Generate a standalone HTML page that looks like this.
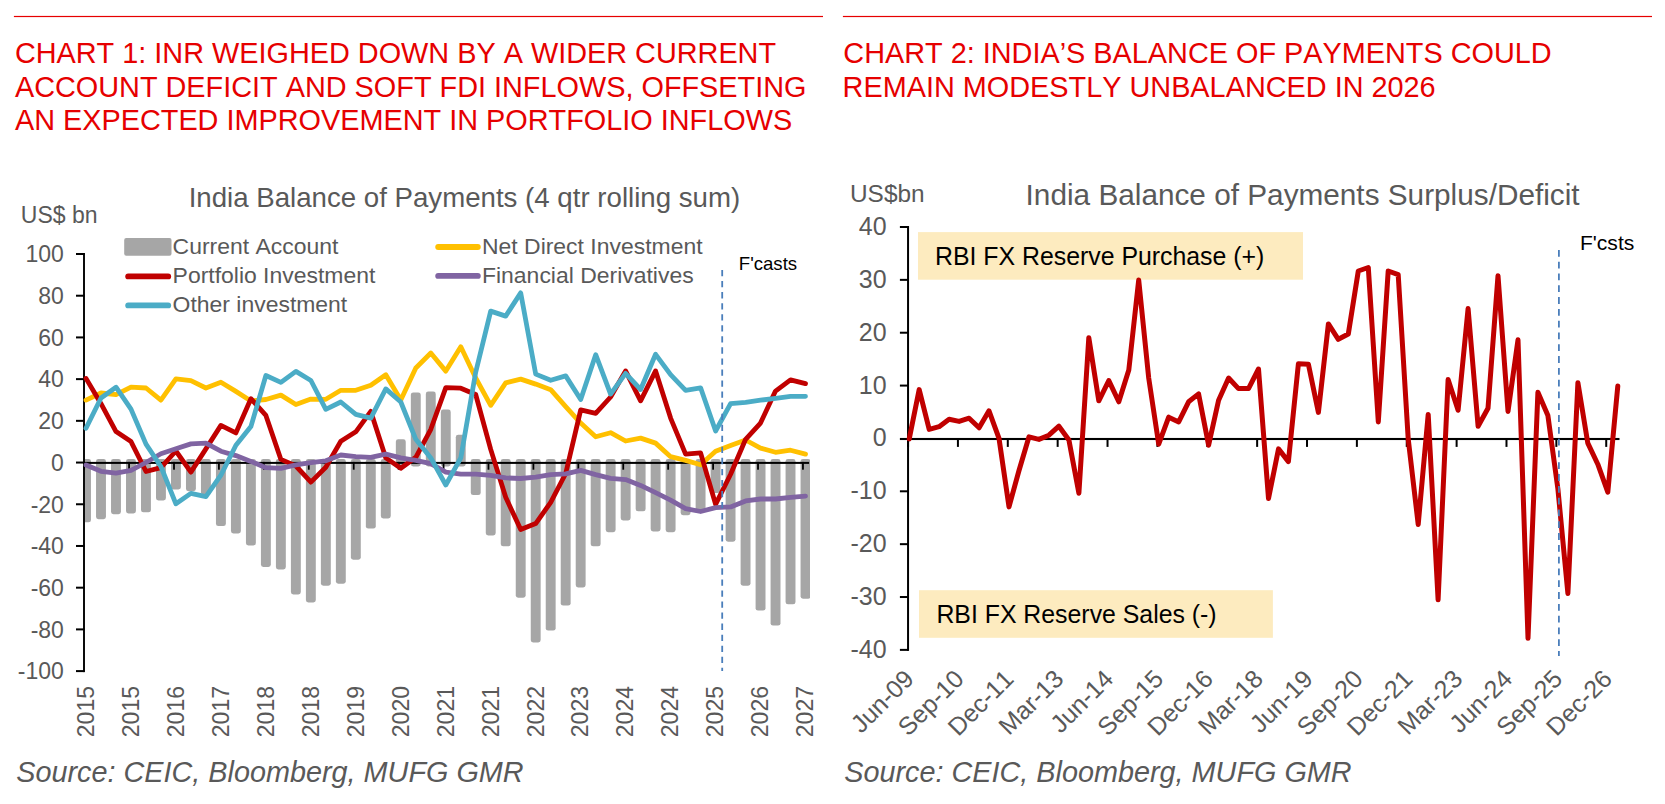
<!DOCTYPE html>
<html lang="en"><head><meta charset="utf-8"><title>India Balance of Payments charts</title>
<style>html,body{margin:0;padding:0;background:#fff}body{width:1665px;height:804px;overflow:hidden}svg{display:block}text{font-family:"Liberation Sans", Arial, sans-serif;font-kerning:none}</style></head><body>
<svg width="1665" height="804" viewBox="0 0 1665 804">
<rect width="1665" height="804" fill="#fff"/>
<rect x="13.9" y="15.9" width="809.1" height="1.2" fill="#E60000"/>
<rect x="842.9" y="15.9" width="809.1" height="1.2" fill="#E60000"/>
<text x="14.9" y="62.8" font-size="28.85" fill="#E60000" text-anchor="start">CHART 1: INR WEIGHED DOWN BY A WIDER CURRENT</text>
<text x="14.9" y="96.5" font-size="28.85" fill="#E60000" text-anchor="start">ACCOUNT DEFICIT AND SOFT FDI INFLOWS, OFFSETING</text>
<text x="14.9" y="130.3" font-size="28.85" fill="#E60000" text-anchor="start">AN EXPECTED IMPROVEMENT IN PORTFOLIO INFLOWS</text>
<text x="843.3" y="62.8" font-size="28.85" fill="#E60000" text-anchor="start">CHART 2: INDIA’S BALANCE OF PAYMENTS COULD</text>
<text x="842.6" y="96.5" font-size="28.85" fill="#E60000" text-anchor="start">REMAIN MODESTLY UNBALANCED IN 2026</text>
<g id="chart1">
<clipPath id="c1clip"><rect x="85" y="250" width="725" height="425"/></clipPath>
<g clip-path="url(#c1clip)" fill="#A6A6A6">
<rect x="81.05" y="458.90" width="9.90" height="63.45" rx="2.4"/>
<rect x="96.04" y="458.90" width="9.90" height="60.32" rx="2.4"/>
<rect x="111.03" y="458.90" width="9.90" height="55.31" rx="2.4"/>
<rect x="126.02" y="458.90" width="9.90" height="54.48" rx="2.4"/>
<rect x="141.01" y="458.90" width="9.90" height="53.43" rx="2.4"/>
<rect x="156.00" y="458.90" width="9.90" height="41.55" rx="2.4"/>
<rect x="170.99" y="458.90" width="9.90" height="30.49" rx="2.4"/>
<rect x="185.98" y="458.90" width="9.90" height="32.37" rx="2.4"/>
<rect x="200.97" y="458.90" width="9.90" height="35.92" rx="2.4"/>
<rect x="215.96" y="458.90" width="9.90" height="67.20" rx="2.4"/>
<rect x="230.95" y="458.90" width="9.90" height="74.50" rx="2.4"/>
<rect x="245.94" y="458.90" width="9.90" height="86.59" rx="2.4"/>
<rect x="260.93" y="458.90" width="9.90" height="108.08" rx="2.4"/>
<rect x="275.92" y="458.90" width="9.90" height="110.58" rx="2.4"/>
<rect x="290.91" y="458.90" width="9.90" height="135.60" rx="2.4"/>
<rect x="305.90" y="458.90" width="9.90" height="143.53" rx="2.4"/>
<rect x="320.89" y="458.90" width="9.90" height="126.84" rx="2.4"/>
<rect x="335.88" y="458.90" width="9.90" height="124.76" rx="2.4"/>
<rect x="350.87" y="458.90" width="9.90" height="100.78" rx="2.4"/>
<rect x="365.86" y="458.90" width="9.90" height="69.70" rx="2.4"/>
<rect x="380.85" y="458.90" width="9.90" height="59.48" rx="2.4"/>
<rect x="395.84" y="439.34" width="9.90" height="27.16" rx="2.4"/>
<rect x="410.83" y="392.42" width="9.90" height="74.08" rx="2.4"/>
<rect x="425.82" y="391.58" width="9.90" height="74.92" rx="2.4"/>
<rect x="440.81" y="409.52" width="9.90" height="56.98" rx="2.4"/>
<rect x="455.80" y="434.75" width="9.90" height="31.75" rx="2.4"/>
<rect x="470.79" y="458.90" width="9.90" height="36.13" rx="2.4"/>
<rect x="485.78" y="458.90" width="9.90" height="76.58" rx="2.4"/>
<rect x="500.77" y="458.90" width="9.90" height="87.43" rx="2.4"/>
<rect x="515.76" y="458.90" width="9.90" height="138.73" rx="2.4"/>
<rect x="530.75" y="458.90" width="9.90" height="183.57" rx="2.4"/>
<rect x="545.74" y="458.90" width="9.90" height="171.68" rx="2.4"/>
<rect x="560.73" y="458.90" width="9.90" height="146.66" rx="2.4"/>
<rect x="575.72" y="458.90" width="9.90" height="128.51" rx="2.4"/>
<rect x="590.71" y="458.90" width="9.90" height="87.43" rx="2.4"/>
<rect x="605.70" y="458.90" width="9.90" height="73.25" rx="2.4"/>
<rect x="620.69" y="458.90" width="9.90" height="61.57" rx="2.4"/>
<rect x="635.68" y="458.90" width="9.90" height="52.39" rx="2.4"/>
<rect x="650.67" y="458.90" width="9.90" height="72.62" rx="2.4"/>
<rect x="665.66" y="458.90" width="9.90" height="73.25" rx="2.4"/>
<rect x="680.65" y="458.90" width="9.90" height="56.35" rx="2.4"/>
<rect x="695.64" y="458.90" width="9.90" height="52.81" rx="2.4"/>
<rect x="710.63" y="458.90" width="9.90" height="34.04" rx="2.4"/>
<rect x="725.62" y="458.90" width="9.90" height="82.84" rx="2.4"/>
<rect x="740.61" y="458.90" width="9.90" height="126.84" rx="2.4"/>
<rect x="755.60" y="458.90" width="9.90" height="151.66" rx="2.4"/>
<rect x="770.59" y="458.90" width="9.90" height="166.68" rx="2.4"/>
<rect x="785.58" y="458.90" width="9.90" height="145.41" rx="2.4"/>
<rect x="800.57" y="458.90" width="9.90" height="139.77" rx="2.4"/>
</g>
<rect x="83.05" y="253" width="1.9" height="419.1" fill="#000"/>
<rect x="76" y="253.00" width="8.5" height="2" fill="#000"/>
<text x="63.9" y="262.3" font-size="23" fill="#595959" text-anchor="end">100</text>
<rect x="76" y="294.71" width="8.5" height="2" fill="#000"/>
<text x="63.9" y="304.0" font-size="23" fill="#595959" text-anchor="end">80</text>
<rect x="76" y="336.42" width="8.5" height="2" fill="#000"/>
<text x="63.9" y="345.7" font-size="23" fill="#595959" text-anchor="end">60</text>
<rect x="76" y="378.13" width="8.5" height="2" fill="#000"/>
<text x="63.9" y="387.4" font-size="23" fill="#595959" text-anchor="end">40</text>
<rect x="76" y="419.84" width="8.5" height="2" fill="#000"/>
<text x="63.9" y="429.1" font-size="23" fill="#595959" text-anchor="end">20</text>
<rect x="76" y="461.55" width="8.5" height="2" fill="#000"/>
<text x="63.9" y="470.9" font-size="23" fill="#595959" text-anchor="end">0</text>
<rect x="76" y="503.26" width="8.5" height="2" fill="#000"/>
<text x="63.9" y="512.6" font-size="23" fill="#595959" text-anchor="end">-20</text>
<rect x="76" y="544.97" width="8.5" height="2" fill="#000"/>
<text x="63.9" y="554.3" font-size="23" fill="#595959" text-anchor="end">-40</text>
<rect x="76" y="586.68" width="8.5" height="2" fill="#000"/>
<text x="63.9" y="596.0" font-size="23" fill="#595959" text-anchor="end">-60</text>
<rect x="76" y="628.39" width="8.5" height="2" fill="#000"/>
<text x="63.9" y="637.7" font-size="23" fill="#595959" text-anchor="end">-80</text>
<rect x="76" y="670.10" width="8.5" height="2" fill="#000"/>
<text x="63.9" y="679.4" font-size="23" fill="#595959" text-anchor="end">-100</text>
<rect x="84.0" y="461.90" width="725.1" height="2" fill="#000"/>
<rect x="83.25" y="461.9" width="1.8" height="7.8" fill="#000"/>
<rect x="128.17" y="461.9" width="1.8" height="7.8" fill="#000"/>
<rect x="173.10" y="461.9" width="1.8" height="7.8" fill="#000"/>
<rect x="218.02" y="461.9" width="1.8" height="7.8" fill="#000"/>
<rect x="262.95" y="461.9" width="1.8" height="7.8" fill="#000"/>
<rect x="307.88" y="461.9" width="1.8" height="7.8" fill="#000"/>
<rect x="352.80" y="461.9" width="1.8" height="7.8" fill="#000"/>
<rect x="397.73" y="461.9" width="1.8" height="7.8" fill="#000"/>
<rect x="442.65" y="461.9" width="1.8" height="7.8" fill="#000"/>
<rect x="487.58" y="461.9" width="1.8" height="7.8" fill="#000"/>
<rect x="532.50" y="461.9" width="1.8" height="7.8" fill="#000"/>
<rect x="577.42" y="461.9" width="1.8" height="7.8" fill="#000"/>
<rect x="622.35" y="461.9" width="1.8" height="7.8" fill="#000"/>
<rect x="667.27" y="461.9" width="1.8" height="7.8" fill="#000"/>
<rect x="712.20" y="461.9" width="1.8" height="7.8" fill="#000"/>
<rect x="757.12" y="461.9" width="1.8" height="7.8" fill="#000"/>
<rect x="802.05" y="461.9" width="1.8" height="7.8" fill="#000"/>
<polyline points="86.0,400.1 101.0,393.0 116.0,394.7 131.0,387.2 146.0,388.0 160.9,400.1 175.9,378.9 190.9,380.7 205.9,388.0 220.9,382.2 235.9,391.4 250.9,401.0 265.9,399.5 280.9,395.1 295.9,404.5 310.9,399.1 325.8,399.3 340.8,390.3 355.8,390.3 370.8,385.3 385.8,374.7 400.8,399.9 415.8,368.0 430.8,353.0 445.8,371.1 460.8,346.7 475.7,378.0 490.7,405.3 505.7,382.8 520.7,379.1 535.7,384.1 550.7,389.7 565.7,406.6 580.7,423.1 595.7,436.8 610.6,432.7 625.6,441.0 640.6,438.1 655.6,443.1 670.6,456.7 685.6,460.4 700.6,464.8 715.6,451.2 730.6,445.6 745.6,440.0 760.5,448.1 775.5,452.3 790.5,450.2 805.5,454.1" fill="none" stroke="#FFC000" stroke-width="4.8" stroke-linejoin="round" stroke-linecap="round"/>
<polyline points="86.0,378.4 101.0,403.7 116.0,431.6 131.0,441.6 146.0,471.5 160.9,467.7 175.9,451.0 190.9,472.1 205.9,448.9 220.9,425.4 235.9,432.9 250.9,398.7 265.9,415.4 280.9,459.4 295.9,466.0 310.9,482.1 325.8,467.3 340.8,441.2 355.8,431.8 370.8,411.4 385.8,457.9 400.8,468.3 415.8,457.3 430.8,429.3 445.8,387.6 460.8,388.2 475.7,394.5 490.7,449.4 505.7,497.3 520.7,529.6 535.7,523.6 550.7,502.3 565.7,473.5 580.7,409.9 595.7,413.3 610.6,397.0 625.6,370.9 640.6,400.8 655.6,370.9 670.6,418.1 685.6,454.1 700.6,452.9 715.6,504.4 730.6,474.2 745.6,439.3 760.5,423.1 775.5,391.1 790.5,379.8 805.5,383.6" fill="none" stroke="#C00000" stroke-width="4.8" stroke-linejoin="round" stroke-linecap="round"/>
<polyline points="86.0,465.0 101.0,471.3 116.0,473.1 131.0,470.4 146.0,462.5 160.9,453.7 175.9,448.7 190.9,443.9 205.9,443.1 220.9,451.2 235.9,455.6 250.9,461.4 265.9,467.7 280.9,468.3 295.9,464.8 310.9,462.7 325.8,460.8 340.8,455.0 355.8,456.7 370.8,457.3 385.8,454.1 400.8,457.9 415.8,460.4 430.8,463.7 445.8,472.1 460.8,474.2 475.7,474.2 490.7,475.4 505.7,477.9 520.7,478.5 535.7,477.1 550.7,474.6 565.7,473.8 580.7,470.4 595.7,474.6 610.6,478.3 625.6,479.6 640.6,485.4 655.6,492.7 670.6,500.2 685.6,508.6 700.6,511.5 715.6,507.7 730.6,506.9 745.6,500.9 760.5,499.0 775.5,499.0 790.5,497.3 805.5,496.1" fill="none" stroke="#8064A2" stroke-width="4.8" stroke-linejoin="round" stroke-linecap="round"/>
<polyline points="86.0,428.3 101.0,398.0 116.0,387.2 131.0,409.1 146.0,444.1 160.9,466.5 175.9,503.8 190.9,493.4 205.9,496.7 220.9,475.2 235.9,445.2 250.9,426.6 265.9,375.5 280.9,382.4 295.9,371.4 310.9,380.5 325.8,409.3 340.8,402.0 355.8,414.3 370.8,418.1 385.8,388.9 400.8,402.0 415.8,439.3 430.8,457.9 445.8,485.0 460.8,457.9 475.7,372.2 490.7,311.1 505.7,316.1 520.7,292.9 535.7,374.1 550.7,380.3 565.7,375.9 580.7,399.5 595.7,354.7 610.6,394.1 625.6,373.4 640.6,389.5 655.6,354.3 670.6,374.7 685.6,390.3 700.6,387.8 715.6,431.0 730.6,403.6 745.6,402.3 760.5,400.2 775.5,398.4 790.5,396.3 805.5,396.3" fill="none" stroke="#4BACC6" stroke-width="4.8" stroke-linejoin="round" stroke-linecap="round"/>
<line x1="722.2" y1="270" x2="722.2" y2="671" stroke="#4A7EBB" stroke-width="1.8" stroke-dasharray="6.3,4.75"/>
<text x="464.4" y="206.5" font-size="27.65" fill="#595959" text-anchor="middle">India Balance of Payments (4 qtr rolling sum)</text>
<text x="20.8" y="223.2" font-size="23" fill="#595959" text-anchor="start">US$ bn</text>
<rect x="124.2" y="238" width="47.3" height="17.8" rx="2" fill="#A6A6A6"/>
<text x="172.6" y="254.3" font-size="22.95" fill="#595959" text-anchor="start">Current Account</text>
<polyline points="128.2,276.4 168.2,276.4" fill="none" stroke="#C00000" stroke-width="5.9" stroke-linejoin="round" stroke-linecap="round"/>
<text x="172.6" y="283.3" font-size="22.95" fill="#595959" text-anchor="start">Portfolio Investment</text>
<polyline points="128.2,305.4 168.2,305.4" fill="none" stroke="#4BACC6" stroke-width="5.9" stroke-linejoin="round" stroke-linecap="round"/>
<text x="172.6" y="312.3" font-size="22.95" fill="#595959" text-anchor="start">Other investment</text>
<polyline points="438.2,247.0 477.8,247.0" fill="none" stroke="#FFC000" stroke-width="5.9" stroke-linejoin="round" stroke-linecap="round"/>
<text x="482.0" y="254.3" font-size="22.95" fill="#595959" text-anchor="start">Net Direct Investment</text>
<polyline points="438.2,275.9 477.8,275.9" fill="none" stroke="#8064A2" stroke-width="5.9" stroke-linejoin="round" stroke-linecap="round"/>
<text x="482.0" y="283.3" font-size="22.95" fill="#595959" text-anchor="start">Financial Derivatives</text>
<text x="738.8" y="269.6" font-size="18.6" fill="#000" text-anchor="start">F'casts</text>
<text transform="translate(86.2,737.2) rotate(-90)" font-size="23" fill="#595959" text-anchor="start" dominant-baseline="central">2015</text>
<text transform="translate(131.1,737.2) rotate(-90)" font-size="23" fill="#595959" text-anchor="start" dominant-baseline="central">2015</text>
<text transform="translate(176.0,737.2) rotate(-90)" font-size="23" fill="#595959" text-anchor="start" dominant-baseline="central">2016</text>
<text transform="translate(220.9,737.2) rotate(-90)" font-size="23" fill="#595959" text-anchor="start" dominant-baseline="central">2017</text>
<text transform="translate(265.9,737.2) rotate(-90)" font-size="23" fill="#595959" text-anchor="start" dominant-baseline="central">2018</text>
<text transform="translate(310.8,737.2) rotate(-90)" font-size="23" fill="#595959" text-anchor="start" dominant-baseline="central">2018</text>
<text transform="translate(355.7,737.2) rotate(-90)" font-size="23" fill="#595959" text-anchor="start" dominant-baseline="central">2019</text>
<text transform="translate(400.7,737.2) rotate(-90)" font-size="23" fill="#595959" text-anchor="start" dominant-baseline="central">2020</text>
<text transform="translate(445.6,737.2) rotate(-90)" font-size="23" fill="#595959" text-anchor="start" dominant-baseline="central">2021</text>
<text transform="translate(490.5,737.2) rotate(-90)" font-size="23" fill="#595959" text-anchor="start" dominant-baseline="central">2021</text>
<text transform="translate(535.5,737.2) rotate(-90)" font-size="23" fill="#595959" text-anchor="start" dominant-baseline="central">2022</text>
<text transform="translate(580.4,737.2) rotate(-90)" font-size="23" fill="#595959" text-anchor="start" dominant-baseline="central">2023</text>
<text transform="translate(625.3,737.2) rotate(-90)" font-size="23" fill="#595959" text-anchor="start" dominant-baseline="central">2024</text>
<text transform="translate(670.2,737.2) rotate(-90)" font-size="23" fill="#595959" text-anchor="start" dominant-baseline="central">2024</text>
<text transform="translate(715.2,737.2) rotate(-90)" font-size="23" fill="#595959" text-anchor="start" dominant-baseline="central">2025</text>
<text transform="translate(760.1,737.2) rotate(-90)" font-size="23" fill="#595959" text-anchor="start" dominant-baseline="central">2026</text>
<text transform="translate(805.0,737.2) rotate(-90)" font-size="23" fill="#595959" text-anchor="start" dominant-baseline="central">2027</text>
</g>
<text x="16.3" y="781.9" font-size="28.8" fill="#595959" text-anchor="start" font-style="italic">Source: CEIC, Bloomberg, MUFG GMR</text>
<g id="chart2">
<rect x="918" y="232.1" width="385" height="47.6" fill="#FDEBBF"/>
<rect x="919" y="590.2" width="353.9" height="47.6" fill="#FDEBBF"/>
<text x="935.0" y="264.6" font-size="24.85" fill="#000" text-anchor="start">RBI FX Reserve Purchase (+)</text>
<text x="936.4" y="623.0" font-size="24.85" fill="#000" text-anchor="start">RBI FX Reserve Sales (-)</text>
<rect x="907.05" y="226" width="2" height="424.9" fill="#000"/>
<rect x="899.9" y="226.00" width="8.2" height="2" fill="#000"/>
<text x="886.6" y="234.9" font-size="25" fill="#595959" text-anchor="end">40</text>
<rect x="899.9" y="278.86" width="8.2" height="2" fill="#000"/>
<text x="886.6" y="287.8" font-size="25" fill="#595959" text-anchor="end">30</text>
<rect x="899.9" y="331.72" width="8.2" height="2" fill="#000"/>
<text x="886.6" y="340.6" font-size="25" fill="#595959" text-anchor="end">20</text>
<rect x="899.9" y="384.58" width="8.2" height="2" fill="#000"/>
<text x="886.6" y="393.5" font-size="25" fill="#595959" text-anchor="end">10</text>
<text x="886.6" y="446.3" font-size="25" fill="#595959" text-anchor="end">0</text>
<rect x="899.9" y="490.30" width="8.2" height="2" fill="#000"/>
<text x="886.6" y="499.2" font-size="25" fill="#595959" text-anchor="end">-10</text>
<rect x="899.9" y="543.16" width="8.2" height="2" fill="#000"/>
<text x="886.6" y="552.1" font-size="25" fill="#595959" text-anchor="end">-20</text>
<rect x="899.9" y="596.02" width="8.2" height="2" fill="#000"/>
<text x="886.6" y="604.9" font-size="25" fill="#595959" text-anchor="end">-30</text>
<rect x="899.9" y="648.88" width="8.2" height="2" fill="#000"/>
<text x="886.6" y="657.8" font-size="25" fill="#595959" text-anchor="end">-40</text>
<rect x="899.9" y="437.95" width="719.6" height="2.1" fill="#000"/>
<rect x="907.05" y="439" width="2" height="7.9" fill="#000"/>
<rect x="956.92" y="439" width="2" height="7.9" fill="#000"/>
<rect x="1006.79" y="439" width="2" height="7.9" fill="#000"/>
<rect x="1056.66" y="439" width="2" height="7.9" fill="#000"/>
<rect x="1106.53" y="439" width="2" height="7.9" fill="#000"/>
<rect x="1156.40" y="439" width="2" height="7.9" fill="#000"/>
<rect x="1206.27" y="439" width="2" height="7.9" fill="#000"/>
<rect x="1256.14" y="439" width="2" height="7.9" fill="#000"/>
<rect x="1306.01" y="439" width="2" height="7.9" fill="#000"/>
<rect x="1355.88" y="439" width="2" height="7.9" fill="#000"/>
<rect x="1405.75" y="439" width="2" height="7.9" fill="#000"/>
<rect x="1455.62" y="439" width="2" height="7.9" fill="#000"/>
<rect x="1505.49" y="439" width="2" height="7.9" fill="#000"/>
<rect x="1555.36" y="439" width="2" height="7.9" fill="#000"/>
<rect x="1605.23" y="439" width="2" height="7.9" fill="#000"/>
<polyline points="909.2,438.9 919.2,389.6 929.2,429.4 939.1,426.7 949.1,419.3 959.1,421.4 969.1,418.2 979.1,427.8 989.0,410.8 999.0,438.4 1009.0,506.9 1019.0,470.5 1029.0,436.8 1038.9,439.4 1048.9,435.2 1058.9,426.2 1068.9,440.0 1078.9,493.2 1088.8,337.7 1098.8,400.8 1108.8,380.6 1118.8,401.8 1128.8,370.0 1138.7,280.0 1148.7,378.0 1158.7,444.2 1168.7,417.2 1178.7,421.9 1188.6,401.8 1198.6,393.9 1208.6,445.2 1218.6,400.2 1228.6,378.0 1238.5,388.6 1248.5,388.6 1258.5,369.0 1268.5,498.5 1278.5,448.9 1288.4,461.6 1298.4,363.7 1308.4,364.2 1318.4,412.4 1328.4,323.9 1338.3,339.3 1348.3,334.0 1358.3,271.0 1368.3,267.5 1378.3,421.9 1388.2,271.0 1398.2,274.7 1408.2,438.9 1418.2,524.4 1428.2,414.5 1438.1,599.8 1448.1,379.6 1458.1,410.3 1468.1,308.6 1478.1,426.2 1488.0,408.2 1498.0,275.7 1508.0,411.4 1518.0,339.8 1528.0,638.3 1537.9,392.3 1547.9,415.6 1557.9,489.0 1567.9,593.5 1577.9,382.7 1587.8,443.1 1597.8,464.2 1607.8,492.2 1617.8,385.9" fill="none" stroke="#C00000" stroke-width="5.0" stroke-linejoin="round" stroke-linecap="round"/>
<line x1="1558.9" y1="249.9" x2="1558.9" y2="656" stroke="#4A7EBB" stroke-width="1.8" stroke-dasharray="6.8,5"/>
<text x="850.0" y="201.5" font-size="24.4" fill="#595959" text-anchor="start">US$bn</text>
<text x="1302.6" y="204.8" font-size="29.75" fill="#595959" text-anchor="middle">India Balance of Payments Surplus/Deficit</text>
<text x="1579.9" y="249.7" font-size="21.1" fill="#000" text-anchor="start">F'csts</text>
<text transform="translate(915.4,680.3) rotate(-45)" font-size="25" fill="#595959" text-anchor="end">Jun-09</text>
<text transform="translate(965.3,680.3) rotate(-45)" font-size="25" fill="#595959" text-anchor="end">Sep-10</text>
<text transform="translate(1015.2,680.3) rotate(-45)" font-size="25" fill="#595959" text-anchor="end">Dec-11</text>
<text transform="translate(1065.1,680.3) rotate(-45)" font-size="25" fill="#595959" text-anchor="end">Mar-13</text>
<text transform="translate(1114.9,680.3) rotate(-45)" font-size="25" fill="#595959" text-anchor="end">Jun-14</text>
<text transform="translate(1164.8,680.3) rotate(-45)" font-size="25" fill="#595959" text-anchor="end">Sep-15</text>
<text transform="translate(1214.7,680.3) rotate(-45)" font-size="25" fill="#595959" text-anchor="end">Dec-16</text>
<text transform="translate(1264.5,680.3) rotate(-45)" font-size="25" fill="#595959" text-anchor="end">Mar-18</text>
<text transform="translate(1314.4,680.3) rotate(-45)" font-size="25" fill="#595959" text-anchor="end">Jun-19</text>
<text transform="translate(1364.3,680.3) rotate(-45)" font-size="25" fill="#595959" text-anchor="end">Sep-20</text>
<text transform="translate(1414.2,680.3) rotate(-45)" font-size="25" fill="#595959" text-anchor="end">Dec-21</text>
<text transform="translate(1464.0,680.3) rotate(-45)" font-size="25" fill="#595959" text-anchor="end">Mar-23</text>
<text transform="translate(1513.9,680.3) rotate(-45)" font-size="25" fill="#595959" text-anchor="end">Jun-24</text>
<text transform="translate(1563.8,680.3) rotate(-45)" font-size="25" fill="#595959" text-anchor="end">Sep-25</text>
<text transform="translate(1613.6,680.3) rotate(-45)" font-size="25" fill="#595959" text-anchor="end">Dec-26</text>
</g>
<text x="844.3" y="781.9" font-size="28.8" fill="#595959" text-anchor="start" font-style="italic">Source: CEIC, Bloomberg, MUFG GMR</text>
</svg></body></html>
